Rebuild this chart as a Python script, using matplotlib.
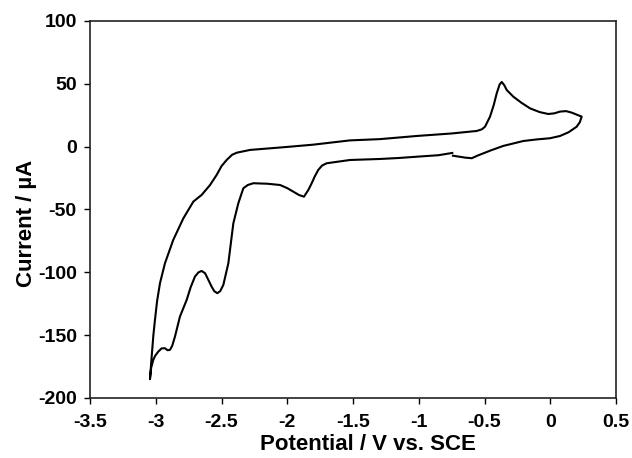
import matplotlib
matplotlib.use("Agg")
import matplotlib.pyplot as plt

# Cyclic voltammogram, traced in scan order
potential = [-0.745, -0.85, -1.016, -1.15, -1.295, -1.523, -1.70, -1.735, -1.764, -1.79, -1.814,
             -1.84, -1.873, -1.91, -1.954, -2.0, -2.055, -2.15, -2.258, -2.30, -2.334, -2.372,
             -2.41, -2.448, -2.486, -2.51, -2.532, -2.555, -2.575, -2.60, -2.625, -2.651,
             -2.675, -2.702, -2.735, -2.765, -2.816, -2.854, -2.875, -2.892, -2.91, -2.930,
             -2.955, -2.981, -3.005, -3.019, -3.035, -3.044,
             -3.031, -3.018, -3.006, -2.99, -2.968, -2.930, -2.867, -2.790, -2.714, -2.651,
             -2.587, -2.537, -2.50, -2.461, -2.42, -2.384, -2.283, -2.0, -1.802, -1.523,
             -1.295, -1.016, -0.75, -0.559, -0.52, -0.496, -0.458, -0.43, -0.407, -0.385,
             -0.369, -0.35, -0.331, -0.281, -0.22, -0.154, -0.08, -0.015, 0.03, 0.074, 0.12,
             0.163, 0.239, 0.225, 0.201, 0.14, 0.074, -0.002, -0.1, -0.205, -0.357, -0.458,
             -0.55, -0.597, -0.648, -0.74]
current = [-5.0, -6.8, -8.0, -9.0, -9.8, -10.6, -13.2, -15.0, -18.5, -23.5, -29.1,
           -34.5, -39.8, -38.5, -35.8, -33.0, -30.5, -29.5, -29.1, -30.5, -33.1, -45.0,
           -61.0, -92.8, -110.0, -115.0, -116.6, -115.0, -111.4, -106.0, -100.7, -98.9,
           -100.0, -103.4, -112.0, -122.0, -135.2, -151.2, -158.5, -161.7, -162.0, -160.4,
           -160.5, -163.1, -166.5, -169.7, -176.0, -185.0,
           -167.0, -150.0, -137.9, -123.0, -108.7, -92.8, -74.2, -57.0, -43.7, -38.4,
           -30.5, -22.5, -15.5, -10.6, -6.5, -4.8, -2.6, -0.2, 1.6, 5.0,
           6.0, 8.5, 10.5, 12.5, 13.8, 15.9, 23.9, 33.0, 42.5, 49.5,
           51.5, 49.0, 45.1, 39.8, 35.0, 30.5, 27.5, 26.0, 26.5, 27.9, 28.3,
           27.1, 23.9, 19.5, 15.9, 11.5, 8.5, 6.7, 5.8, 4.5, 0.6, -3.2,
           -7.0, -9.2, -8.7, -7.2]

xticks = [-3.5, -3, -2.5, -2, -1.5, -1, -0.5, 0, 0.5]
xtick_labels = ["-3.5", "-3", "-2.5", "-2", "-1.5", "-1", "-0.5", "0", "0.5"]
yticks = [-200, -150, -100, -50, 0, 50, 100]
ytick_labels = ["-200", "-150", "-100", "-50", "0", "50", "100"]

plt.rcParams['font.family'] = ['Liberation Sans', 'DejaVu Sans']
plt.rcParams['font.weight'] = 'bold'

fig = plt.figure(figsize=(6.32, 4.58), dpi=100)
ax = fig.add_axes([90/632, 1 - 398/458, (616 - 90)/632, (398 - 21)/458])

ax.plot(potential, current, color='black', linewidth=1.5, solid_joinstyle='round')

ax.set_xlim(-3.5, 0.5)
ax.set_ylim(-200, 100)
ax.set_xticks(xticks)
ax.set_xticklabels(xtick_labels)
ax.set_yticks(yticks)
ax.set_yticklabels(ytick_labels)
ax.tick_params(direction='out', length=4, width=1, labelsize=14)
ax.tick_params(axis='x', pad=7.5)
ax.tick_params(axis='y', pad=5.5)
for s in ax.spines.values():
    s.set_linewidth(1.2)
    s.set_color('#222222')

ax.set_xlabel("Potential / V vs. SCE", fontsize=16, fontweight='bold')
ax.set_ylabel("Current / µA", fontsize=16, fontweight='bold')
ax.xaxis.set_label_coords(0.5276, -0.095)
ax.yaxis.set_label_coords(-0.1, 0.464)

fig.savefig("out.png", dpi=100, facecolor='white')
